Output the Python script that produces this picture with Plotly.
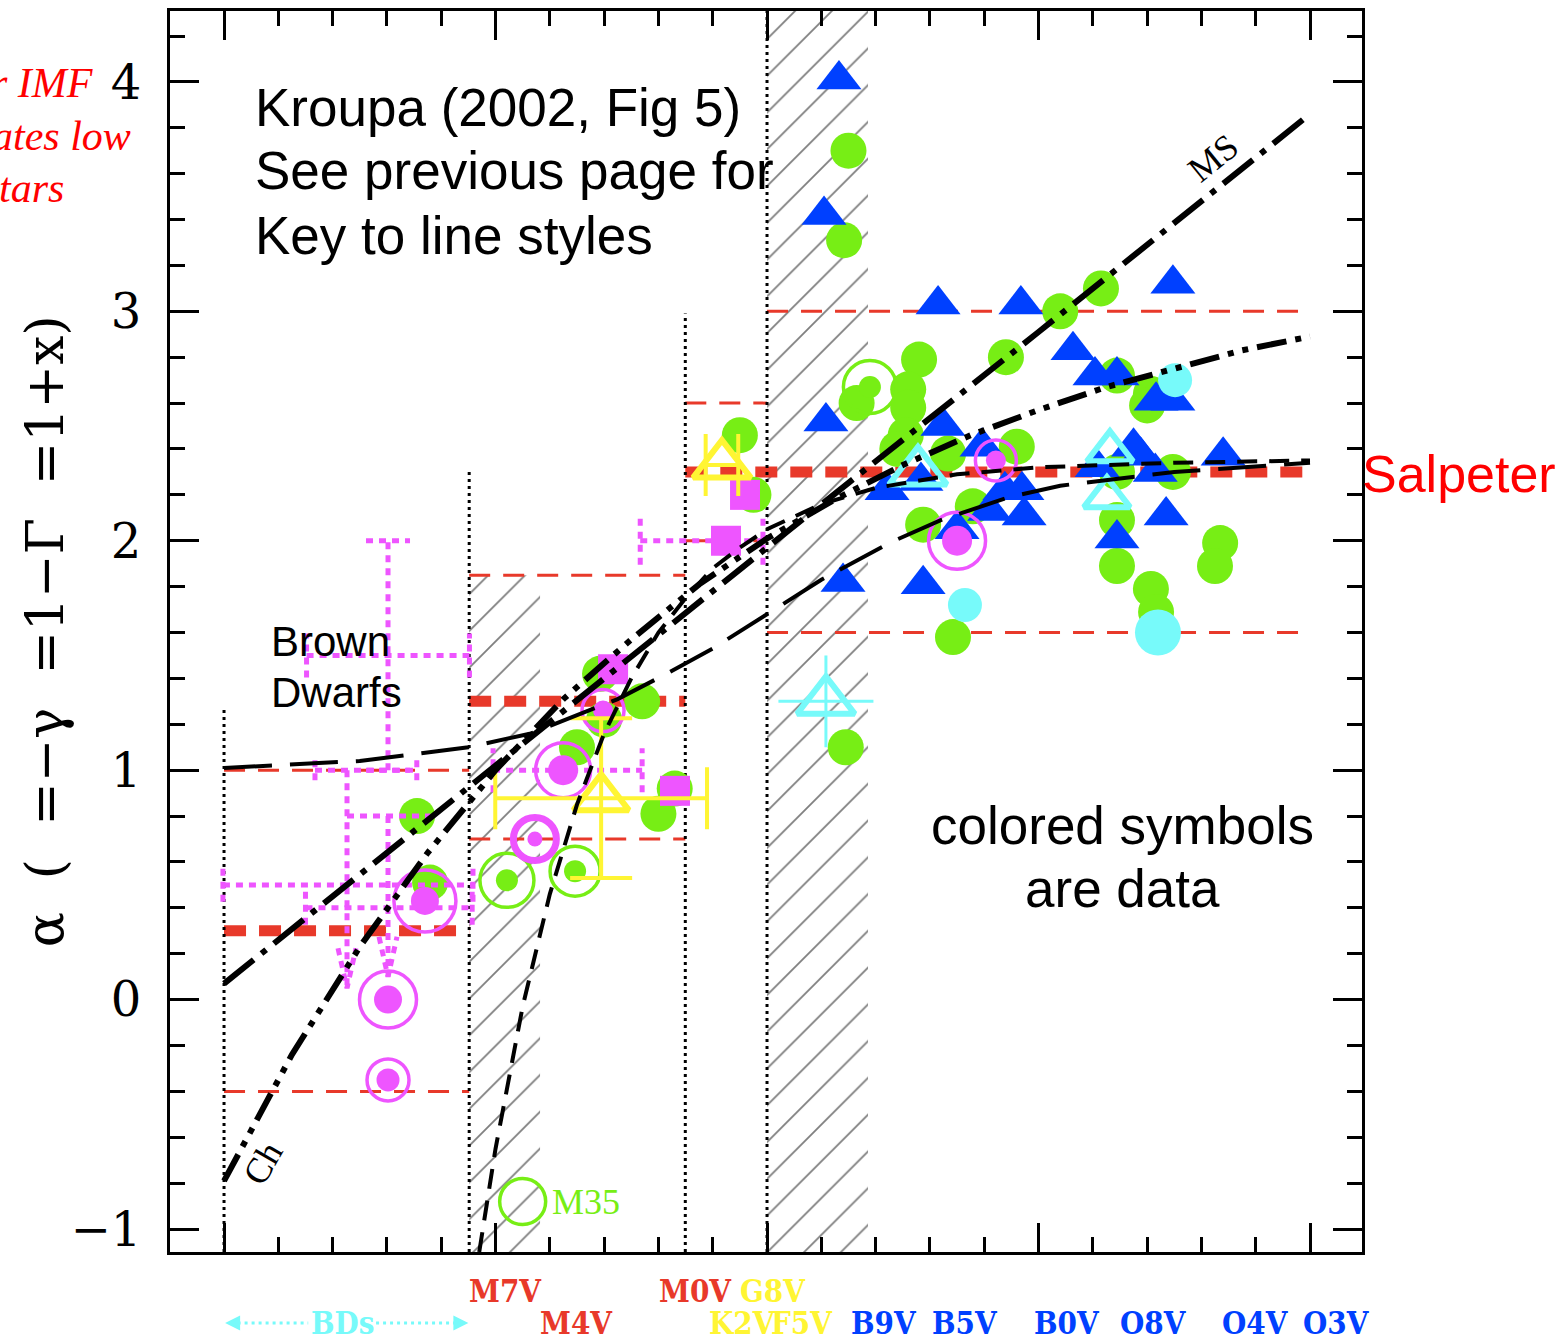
import plotly.graph_objects as go

# ---------------- canvas / axes ----------------
W, H = 1564, 1343
MARGIN = dict(l=170, r=202, t=8, b=91)
X_RANGE = [-2.199, 2.1915]          # log10 (m / Msun)
Y_RANGE = [-1.1, 4.309]             # alpha
PX_X = (W - MARGIN['l'] - MARGIN['r']) / (X_RANGE[1] - X_RANGE[0])
PX_Y = (H - MARGIN['t'] - MARGIN['b']) / (Y_RANGE[1] - Y_RANGE[0])

GREEN = '#77EE15'
BLUE = '#0040FF'
MAGENTA = '#EE55FF'
YELLOW = '#FFF533'
CYAN = '#77FAFA'
KRED = '#E8392A'

# ---------------- mass ranges of the multi-part power law ----------------
BOUND_X = [-2.0, -1.097, -0.301, 0.0]          # 0.01, 0.08, 0.5, 1 Msun
BOUND_TOP = [1.28, 2.31, 2.99, 4.309]

KROUPA_X0 = [-2.0, -1.097, -0.301]
KROUPA_X1 = [-1.097, -0.301, 2.0]
KROUPA_ALPHA = [0.3, 1.3, 2.3]

UNC_X0 = [-2.0, -2.0, -1.097, -1.097, -0.301, -0.301, 0.0, 0.0]
UNC_X1 = [-1.097, -1.097, -0.301, -0.301, 0.0, 0.0, 2.0, 2.0]
UNC_ALPHA = [1.0, -0.4, 1.85, 0.70, 2.6, 2.0, 3.0, 1.6]

HATCH_X0 = [-1.097, 0.0]
HATCH_X1 = [-0.836, 0.372]
HATCH_TOP = [1.85, 4.309]

# ---------------- analytic IMF forms (alpha vs log m) ----------------
MS_X = [-2.0, -1.0, 0.0, 1.0, 2.0]
MS_A = [0.07, 1.02, 1.97, 2.91, 3.86]

CH_X = [-2.0, -1.75, -1.5, -1.25, -1.0, -0.75, -0.5, -0.25, 0.0, 0.25, 0.5, 0.75, 1.0, 1.25, 1.5, 1.75, 2.0]
CH_A = [-0.79, -0.24, 0.23, 0.64, 1.0, 1.31, 1.57, 1.81, 2.01, 2.18, 2.33, 2.46, 2.57, 2.67, 2.75, 2.83, 2.89]

STEEP_X = [-1.06, -1.0, -0.9, -0.8, -0.7, -0.6, -0.5, -0.4, -0.3, -0.2, -0.1, 0.0, 0.2, 0.4, 0.7, 1.0, 1.5, 2.0]
STEEP_A = [-1.10, -0.65, -0.03, 0.46, 0.85, 1.16, 1.40, 1.60, 1.75, 1.88, 1.97, 2.05, 2.16, 2.23, 2.29, 2.32, 2.34, 2.35]

LONG_X = [-2.0, -1.5, -1.1, -0.87, -0.55, -0.37, -0.2, 0.04, 0.2, 0.45, 0.64, 0.89, 1.08, 1.5, 2.0]
LONG_A = [1.01, 1.04, 1.10, 1.16, 1.31, 1.42, 1.53, 1.71, 1.83, 1.99, 2.09, 2.19, 2.24, 2.30, 2.34]

# ---------------- measurements ----------------
GREEN_X = [-1.289, -1.241, -0.615, -0.46, -0.60, -0.70, -0.40, -0.34, -0.10, -0.05,
           0.30, 0.284, 0.29, 0.33, 0.56, 0.52, 0.52, 0.88, 1.08, 1.23, 0.511, 0.48,
           0.667, 0.92, 0.758, 0.575, 0.685, 1.289, 1.414, 1.40, 1.495, 1.289, 1.289,
           1.414, 1.433, 1.669, 1.65, 1.289]
GREEN_A = [0.80, 0.51, 1.42, 1.30, 1.22, 1.10, 0.81, 0.92, 2.46, 2.20,
           3.70, 3.31, 1.10, 2.60, 2.79, 2.66, 2.58, 2.80, 3.00, 3.10, 2.46, 2.40,
           2.38, 2.41, 2.15, 2.07, 1.58, 2.72, 2.64, 2.59, 2.30, 2.09, 1.89,
           1.79, 1.69, 1.99, 1.89, 2.30]

GRING_X = [0.379, -0.958, -0.707, -0.90]
GRING_A = [2.67, 0.52, 0.56, -0.88]
GRING_SIZE = [53, 54, 50, 46]
GDOT_X = [0.379, -0.958, -0.707]
GDOT_A = [2.67, 0.52, 0.56]

BLUE_X = [0.265, 0.21, 0.217, 0.28, 0.63, 0.935, 1.495, 1.127, 1.208, 1.289, 1.433, 1.495,
          0.648, 0.792, 0.442, 0.567, 0.876, 0.939, 1.35, 1.376, 1.216, 1.43, 1.68, 0.82,
          0.947, 1.47, 1.289, 0.575, 0.70]
BLUE_A = [4.01, 3.42, 2.52, 1.82, 3.03, 3.03, 3.12, 2.83, 2.72, 2.72, 2.61, 2.61,
          2.50, 2.41, 2.22, 2.26, 2.22, 2.22, 2.41, 2.37, 2.32, 2.30, 2.37, 2.13,
          2.11, 2.11, 2.01, 1.81, 2.05]

CYAN_DOT_X = [1.503, 0.729, 1.44]
CYAN_DOT_A = [2.70, 1.72, 1.60]
CYAN_DOT_SIZE = [34, 34, 46]

CYAN_TRI_X = [0.556, 1.263, 1.252, 0.217]
CYAN_TRI_A = [2.30, 2.39, 2.19, 1.30]
CYAN_TRI_SIZE = [50, 40, 40, 50]
CYAN_TRI_EX = [0.0, 0.0, 0.0, 0.175]
CYAN_TRI_EY = [0.0, 0.0, 0.0, 0.20]

MAG_SQ_X = [-0.567, -0.151, -0.081, -0.339]
MAG_SQ_A = [1.44, 2.00, 2.20, 0.91]

MAG_RING_X = [-1.396, -1.396, -1.26, -0.751, -0.855, -0.604, 0.70, 0.843]
MAG_RING_A = [0.0, -0.35, 0.43, 1.0, 0.70, 1.26, 2.0, 2.35]
MAG_DOT_SIZE = [28, 23, 28, 30, 15, 20, 30, 20]
MAG_RING_SIZE = [57, 42, 62, 55, 43, 42, 57, 41]
MAG_RING_WIDTH = [3.5, 3.5, 3.5, 3.5, 7, 3.5, 3.5, 3.5]

# dotted error bars: horizontal (x_lo, x_hi, alpha, cap px) and vertical (x, a_lo, a_hi, cap px)
MAG_HBAR_LO = [-1.696, -2.004, -1.70, -1.665, -1.009, -0.467, -1.547]
MAG_HBAR_HI = [-1.096, -1.083, -1.086, -1.29, -0.46, -0.015, -1.24]
MAG_HBAR_A = [1.5, 0.5, 0.40, 1.0, 1.0, 2.0, 0.8]
MAG_HBAR_CAP = [22, 17, 17, 10, 22, 24, 0]
MAG_VBAR_X = [-1.396]
MAG_VBAR_LO = [1.0]
MAG_VBAR_HI = [2.0]
MAG_VBAR_CAP = [22]
# downward limit arrows (x, alpha start, alpha tip)
MAG_ARROW_X = [-1.547, -1.396]
MAG_ARROW_TOP = [1.0, 0.8]
MAG_ARROW_TIP = [0.05, 0.10]

YEL_X = [-0.166, -0.611]
YEL_A = [2.33, 0.878]
YEL_SIZE = [50, 48]
YEL_EX = [0.06, 0.39]
YEL_EY = [0.0, 0.348]

# spectral types along the mass axis
SPT_LABEL = ['M7V', 'M0V', 'G8V', 'M4V', 'K2V', 'F5V', 'B9V', 'B5V', 'B0V', 'O8V', 'O4V', 'O3V']
SPT_X = [-0.965, -0.265, 0.022, -0.703, -0.092, 0.128, 0.431, 0.729, 1.105, 1.425, 1.801, 2.096]
SPT_ROW = [1, 1, 1, 2, 2, 2, 2, 2, 2, 2, 2, 2]
SPT_COLOR = [KRED, KRED, YELLOW, KRED, YELLOW, YELLOW, BLUE, BLUE, BLUE, BLUE, BLUE, BLUE]

Y_TICKS = [-1, 0, 1, 2, 3, 4]
Y_TICKTEXT = ['\u22121', '0', '1', '2', '3', '4']

fig = go.Figure()


def lines(xs, ys, color, width, dash):
    fig.add_trace(go.Scatter(x=xs, y=ys, mode='lines', hoverinfo='skip', showlegend=False,
                             line=dict(color=color, width=width, dash=dash)))


def points(xs, ys, symbol, size, color, lw=0):
    fig.add_trace(go.Scatter(x=xs, y=ys, mode='markers', hoverinfo='skip', showlegend=False,
                             marker=dict(symbol=symbol, size=size, color=color, opacity=1,
                                         line=dict(width=lw, color=color))))


# hatched mass intervals
for x0, x1, top in zip(HATCH_X0, HATCH_X1, HATCH_TOP):
    fig.add_trace(go.Scatter(x=[x0, x1, x1, x0, x0], y=[Y_RANGE[0], Y_RANGE[0], top, top, Y_RANGE[0]],
                             mode='lines', fill='toself', line=dict(width=0, color='rgba(0,0,0,0)'),
                             fillcolor='rgba(0,0,0,0)', hoverinfo='skip', showlegend=False,
                             fillpattern=dict(shape='/', size=26, solidity=0.07,
                                              fgcolor='black', bgcolor='rgba(0,0,0,0)')))

# uncertainty ranges and the adopted slopes
ux, uy = [], []
for x0, x1, a in zip(UNC_X0, UNC_X1, UNC_ALPHA):
    ux += [x0, x1, None]
    uy += [a, a, None]
lines(ux, uy, KRED, 3, '21px,13px')
kx, ky = [], []
for x0, x1, a in zip(KROUPA_X0, KROUPA_X1, KROUPA_ALPHA):
    kx += [x0, x1, None]
    ky += [a, a, None]
lines(kx, ky, KRED, 11, '22px,13px')

# mass boundaries
bx, by = [], []
for x, top in zip(BOUND_X, BOUND_TOP):
    bx += [x, x, None]
    by += [Y_RANGE[0], top, None]
lines(bx, by, 'black', 3, '3px,4px')

# green circles
points(GREEN_X, GREEN_A, 'circle', 36, GREEN)
points(GRING_X, GRING_A, 'circle-open', GRING_SIZE, GREEN, 3.5)
points(GDOT_X, GDOT_A, 'circle', 22, GREEN)

# blue triangles
points(BLUE_X, BLUE_A, 'triangle-up', 39, BLUE)

# cyan filled circles
points(CYAN_DOT_X, CYAN_DOT_A, 'circle', CYAN_DOT_SIZE, CYAN)

# magenta dotted error bars
mx, my = [], []
for lo, hi, a, cap in zip(MAG_HBAR_LO, MAG_HBAR_HI, MAG_HBAR_A, MAG_HBAR_CAP):
    mx += [lo, hi, None]
    my += [a, a, None]
    if cap:
        c = cap / PX_Y
        mx += [lo, lo, None, hi, hi, None]
        my += [a - c, a + c, None, a - c, a + c, None]
for x, lo, hi, cap in zip(MAG_VBAR_X, MAG_VBAR_LO, MAG_VBAR_HI, MAG_VBAR_CAP):
    c = cap / PX_X
    mx += [x, x, None, x - c, x + c, None, x - c, x + c, None]
    my += [lo, hi, None, hi, hi, None, lo, lo, None]
for x, top, tip in zip(MAG_ARROW_X, MAG_ARROW_TOP, MAG_ARROW_TIP):
    dx, dy = 9 / PX_X, 40 / PX_Y
    mx += [x, x, None, x - dx, x, x + dx, None]
    my += [top, tip, None, tip + dy, tip, tip + dy, None]
lines(mx, my, MAGENTA, 5, '7px,6px')

points(MAG_SQ_X, MAG_SQ_A, 'square', 30, MAGENTA)
for x, a, s, w in zip(MAG_RING_X, MAG_RING_A, MAG_RING_SIZE, MAG_RING_WIDTH):
    points([x], [a], 'circle-open', s, MAGENTA, w)
points(MAG_RING_X, MAG_RING_A, 'circle', MAG_DOT_SIZE, MAGENTA)

# yellow open triangles with error bars
for x, a, s, ex, ey in zip(YEL_X, YEL_A, YEL_SIZE, YEL_EX, YEL_EY):
    fig.add_trace(go.Scatter(x=[x], y=[a], mode='markers', hoverinfo='skip', showlegend=False,
                             marker=dict(symbol='triangle-up-open', size=s, color=YELLOW, opacity=1,
                                         line=dict(width=6, color=YELLOW)),
                             error_x=dict(type='data', array=[ex], visible=ex > 0, color=YELLOW,
                                          thickness=4, width=31),
                             error_y=dict(type='data', array=[ey], visible=ey > 0, color=YELLOW,
                                          thickness=4, width=31)))

# cyan open triangles
for x, a, s, ex, ey in zip(CYAN_TRI_X, CYAN_TRI_A, CYAN_TRI_SIZE, CYAN_TRI_EX, CYAN_TRI_EY):
    fig.add_trace(go.Scatter(x=[x], y=[a], mode='markers', hoverinfo='skip', showlegend=False,
                             marker=dict(symbol='triangle-up-open', size=s, color=CYAN, opacity=1,
                                         line=dict(width=6, color=CYAN)),
                             error_x=dict(type='data', array=[ex], visible=ex > 0, color=CYAN,
                                          thickness=3, width=0),
                             error_y=dict(type='data', array=[ey], visible=ey > 0, color=CYAN,
                                          thickness=3, width=0)))

# IMF forms
lines(LONG_X, LONG_A, 'black', 4, '48px,18px')
lines(STEEP_X, STEEP_A, 'black', 4, '20px,12px')
lines(CH_X, CH_A, 'black', 6, '30px,9px,6px,9px,6px,9px')
lines(MS_X, MS_A, 'black', 6, '38px,10px,6px,10px')

# ---------------- text ----------------
ann = []


def text(x, y, s, size, color='black', family='Liberation Sans', xanchor='center', yanchor='middle',
         xref='x', yref='y', angle=0):
    ann.append(dict(x=x, y=y, xref=xref, yref=yref, text=s, showarrow=False, xanchor=xanchor,
                    yanchor=yanchor, textangle=angle, font=dict(size=size, color=color, family=family)))


text(-1.894, 3.887, 'Kroupa (2002, Fig 5)', 53, xanchor='left')
text(-1.894, 3.613, 'See previous page for', 53, xanchor='left')
text(-1.894, 3.330, 'Key to line styles', 53, xanchor='left')
text(-1.835, 1.561, 'Brown', 42, xanchor='left')
text(-1.835, 1.339, 'Dwarfs', 42, xanchor='left')
text(1.308, 0.757, 'colored symbols', 53)
text(1.308, 0.483, 'are data', 53)
text(0.998, 2.29, 'Salpeter', 52, color='#FF0000', xanchor='left', xref='paper')
text(1.643, 3.67, 'MS', 36, family='Liberation Serif', angle=-39)
text(-1.856, -0.713, 'Ch', 36, family='Liberation Serif', angle=-60)
text(-0.80, -0.88, 'M35', 36, color=GREEN, family='Liberation Serif', xanchor='left')

for s, xr, yp in [('r IMF', 95, 80), ('ates low', 133, 133), ('tars', 66, 185)]:
    text((xr - MARGIN['l']) / (W - MARGIN['l'] - MARGIN['r']), (H - MARGIN['b'] - yp) / (H - MARGIN['t'] - MARGIN['b']),
         '<i>%s</i>' % s, 42, color='#FF0000', family='Liberation Serif', xanchor='right', xref='paper', yref='paper')

text(-0.105, 0.5, '\u03b1  (  =\u2212\u03b3  =1\u2212\u0393  =1+x)', 52, family='DejaVu Serif',
     xref='paper', yref='paper', angle=-90)

ROW_Y = {1: -0.0314, 2: -0.0572}
LABEL_FONT = 'DejaVu Serif Condensed, Liberation Serif, serif'
for s, x, r, c in zip(SPT_LABEL, SPT_X, SPT_ROW, SPT_COLOR):
    text(x, ROW_Y[r], '<b>%s</b>' % s, 31, color=c, family=LABEL_FONT, yref='paper')
text(-1.562, ROW_Y[2], '<b>BDs</b>', 31, color=CYAN, family=LABEL_FONT, yref='paper')

shapes = [
    dict(type='line', xref='x', yref='paper', x0=-1.95, x1=-1.69, y0=ROW_Y[2], y1=ROW_Y[2],
         line=dict(color=CYAN, width=3, dash='3px,4px')),
    dict(type='line', xref='x', yref='paper', x0=-1.44, x1=-1.15, y0=ROW_Y[2], y1=ROW_Y[2],
         line=dict(color=CYAN, width=3, dash='3px,4px')),
]
for tip, ax in [(-1.996, 16), (-1.10, -16)]:
    ann.append(dict(x=tip, y=ROW_Y[2], xref='x', yref='paper', text='', showarrow=True, ax=ax, ay=0,
                    arrowhead=2, arrowsize=1.2, arrowwidth=2.5, arrowcolor=CYAN))

axis_common = dict(showline=True, linecolor='black', linewidth=3, mirror='ticks', showgrid=False,
                   zeroline=False, ticks='inside', tickcolor='black', tickwidth=3, ticklen=29)

fig.update_layout(
    width=W, height=H, margin=MARGIN, plot_bgcolor='white', paper_bgcolor='white',
    showlegend=False, annotations=ann, shapes=shapes,
    xaxis=dict(range=X_RANGE, tick0=0, dtick=1, showticklabels=False,
               minor=dict(ticks='inside', dtick=0.2, ticklen=15, tickwidth=3, tickcolor='black'),
               **axis_common),
    yaxis=dict(range=Y_RANGE, tickvals=Y_TICKS, ticktext=Y_TICKTEXT, ticklabelstandoff=16,
               tickfont=dict(family='DejaVu Serif', size=48, color='black'),
               minor=dict(ticks='inside', dtick=0.2, tick0=0, ticklen=15, tickwidth=3, tickcolor='black'),
               **axis_common),
)

fig.write_html('out.html')
